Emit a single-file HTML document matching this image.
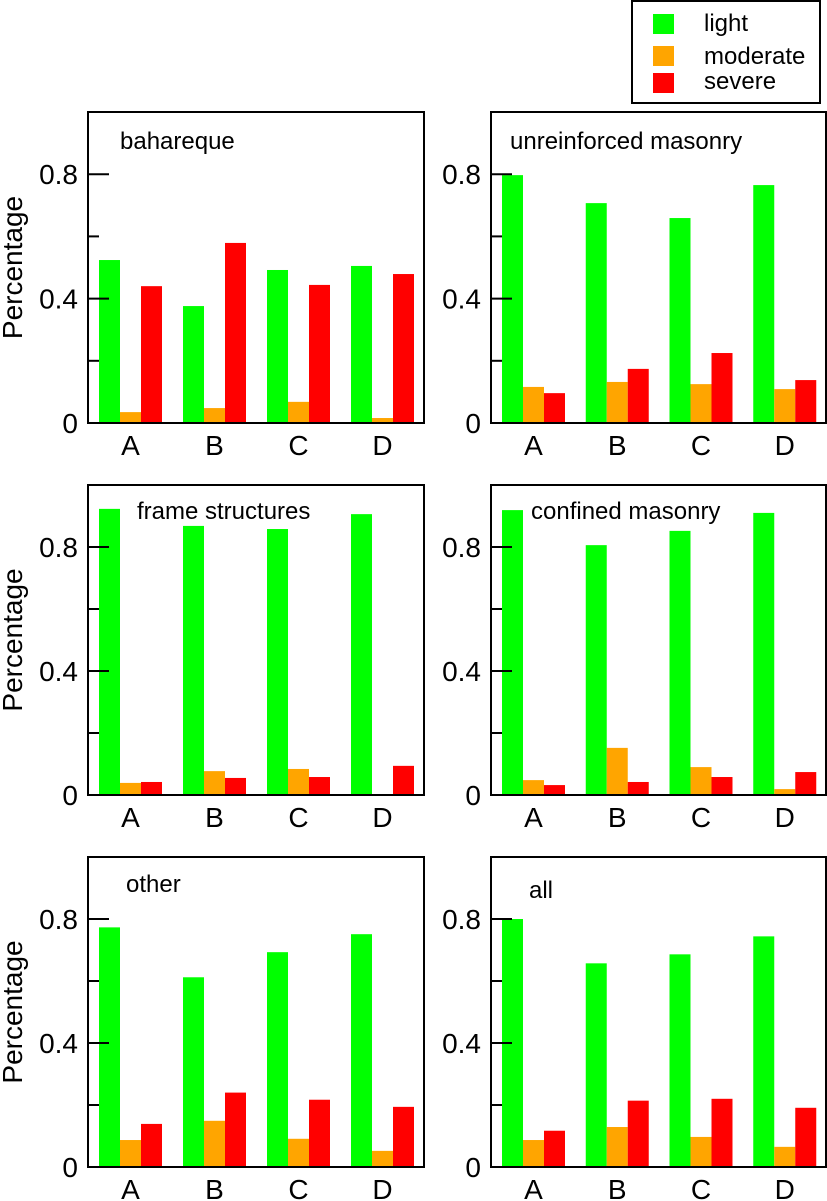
<!DOCTYPE html>
<html><head><meta charset="utf-8">
<style>
html,body{margin:0;padding:0;background:#fff;}
svg{display:block;font-family:"Liberation Sans",Arial,sans-serif;}
</style></head>
<body>
<svg id="chart" width="827" height="1201" viewBox="0 0 827 1201">
<g>
  <rect x="632" y="1" width="188" height="102" fill="#fff" stroke="#000" stroke-width="2"/>
  <rect x="653" y="14" width="21" height="20" fill="#00ff00"/>
  <text x="704" y="31" font-size="24">light</text>
  <rect x="653" y="46" width="21" height="20" fill="#ffa500"/>
  <text x="704" y="64" font-size="24">moderate</text>
  <rect x="653" y="73" width="21" height="20" fill="#ff0000"/>
  <text x="704" y="89" font-size="24">severe</text>
</g>
</svg>
<script>
const categories = ["A","B","C","D"];
const panelTitles = ["bahareque","unreinforced masonry","frame structures","confined masonry","other","all"];
const lightValues = [
  [0.524,0.376,0.492,0.505],
  [0.797,0.707,0.659,0.765],
  [0.923,0.868,0.858,0.906],
  [0.919,0.806,0.852,0.910],
  [0.773,0.612,0.693,0.751],
  [0.800,0.657,0.686,0.744]
];
const moderateValues = [
  [0.035,0.048,0.068,0.016],
  [0.116,0.132,0.125,0.109],
  [0.039,0.077,0.084,0.0],
  [0.048,0.152,0.090,0.019],
  [0.087,0.149,0.091,0.052],
  [0.087,0.129,0.097,0.065]
];
const severeValues = [
  [0.440,0.579,0.444,0.479],
  [0.096,0.174,0.225,0.138],
  [0.042,0.055,0.058,0.094],
  [0.032,0.042,0.058,0.074],
  [0.139,0.240,0.217,0.194],
  [0.117,0.214,0.220,0.191]
];
const yTickLabels = ["0","0.4","0.8"];
const yTickValues = [0,0.4,0.8];
const yMinorTicks = [0.2,0.6];

const NS="http://www.w3.org/2000/svg";
const svg=document.getElementById('chart');
function mk(tag,attrs,parent){const e=document.createElementNS(NS,tag);for(const k in attrs)e.setAttribute(k,attrs[k]);parent.appendChild(e);return e;}

const layout=[
  {x0:88,x1:424,top:112,bottom:423,tx:120,ty:149},
  {x0:491,x1:826,top:112,bottom:423,tx:510,ty:149},
  {x0:88,x1:424,top:485,bottom:795,tx:137,ty:519},
  {x0:491,x1:826,top:485,bottom:795,tx:531,ty:519},
  {x0:88,x1:424,top:857,bottom:1167,tx:126,ty:892},
  {x0:491,x1:826,top:857,bottom:1167,tx:529,ty:898}
];
const series=[lightValues,moderateValues,severeValues];
const colors=["#00ff00","#ffa500","#ff0000"];
const seriesNames=["light","moderate","severe"];

layout.forEach((L,p)=>{
  const g=mk('g',{},svg);
  
  
  const scale=(L.bottom-L.top);
  const yS=v=>L.bottom-v*scale;
  const groupStep=(L.x1-L.x0)/4;
  const xS=(i,s)=>L.x0+11+i*groupStep+s*21;
  series.forEach((ser,s)=>{
    ser[p].forEach((v,i)=>{
      const r=mk('rect',{x:xS(i,s),y:yS(v),width:21,height:Math.max(0,v*scale),fill:colors[s]},g);
      
      
    });
  });
  const fr=mk('rect',{x:L.x0,y:L.top,width:L.x1-L.x0,height:L.bottom-L.top,fill:'none',stroke:'#000','stroke-width':2},g);
  
  
  yTickValues.forEach((v,k)=>{
    if(v>0){const t=mk('line',{x1:L.x0,x2:L.x0+21,y1:yS(v),y2:yS(v),stroke:'#000','stroke-width':2},g);
    
    }
    const tl=mk('text',{x:L.x0-10,y:yS(v)+10,'font-size':28,'text-anchor':'end'},g);
    tl.textContent=yTickLabels[k];
    
    
  });
  yMinorTicks.forEach(v=>{
    const t=mk('line',{x1:L.x0,x2:L.x0+11,y1:yS(v),y2:yS(v),stroke:'#000','stroke-width':2},g);
    
    
  });
  categories.forEach((c,i)=>{
    const t=mk('text',{x:xS(i,1)+10.5,y:L.bottom+32,'font-size':28,'text-anchor':'middle'},g);
    t.textContent=c;
    
    
  });
  const tt=mk('text',{x:L.tx,y:L.ty,'font-size':24},g);
  tt.textContent=panelTitles[p];
  
  
  if(p%2===0){
    const cy=(L.top+L.bottom)/2+0;
    const yt=mk('text',{x:0,y:0,'font-size':28,'text-anchor':'middle',transform:'translate(22,'+cy+') rotate(-90)'},g);
    yt.textContent='Percentage';
    
    
  }
});
</script>
</body></html>
